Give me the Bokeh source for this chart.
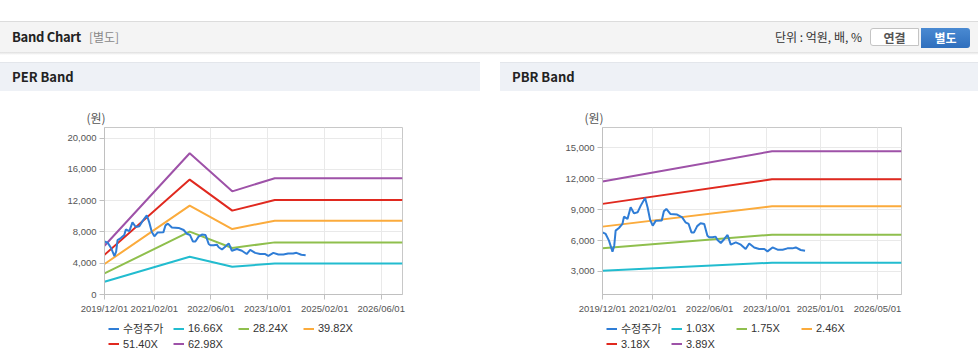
import pandas as pd
from bokeh.plotting import figure
from bokeh.models import (Div, Spacer, Legend, LegendItem, FixedTicker,
                          DatetimeTickFormatter, NumeralTickFormatter, Range1d)
from bokeh.layouts import column, row
from bokeh.embed import file_html
from bokeh.resources import INLINE

# ---------------- data ----------------
price_dates = ["2019-12-01", "2019-12-28", "2020-01-25", "2020-02-24", "2020-03-10", "2020-03-22",
               "2020-04-19", "2020-05-19", "2020-06-01", "2020-07-01", "2020-07-28", "2020-08-25",
               "2020-09-25", "2020-10-22", "2020-11-28", "2020-12-19", "2021-01-10", "2021-02-01",
               "2021-02-28", "2021-04-19", "2021-05-07", "2021-05-28", "2021-07-01", "2021-08-28",
               "2021-10-10", "2021-11-07", "2021-12-04", "2021-12-28", "2022-01-19", "2022-02-15",
               "2022-03-16", "2022-04-16", "2022-05-13", "2022-05-28", "2022-06-25", "2022-07-22",
               "2022-08-07", "2022-09-04", "2022-10-04", "2022-11-01", "2022-11-28", "2023-01-10",
               "2023-02-22", "2023-04-04", "2023-05-04", "2023-06-16", "2023-07-28", "2023-09-10",
               "2023-10-07", "2023-11-19", "2024-01-01", "2024-02-13", "2024-03-25", "2024-05-07",
               "2024-06-04", "2024-07-16", "2024-08-22"]
price = [6790, 6640, 5990, 4920, 5500, 6960,
         7220, 7610, 8320, 8100, 9230, 8640,
         8740, 9390, 10140, 9230, 8000, 7450,
         7930, 7950, 8840, 9070, 8580, 8520,
         8250, 7770, 7610, 6790, 6790, 7400,
         7670, 7610, 6470, 6310, 6310, 6380,
         6050, 5760, 6150, 6540, 5600, 5820,
         5600, 5180, 5720, 5330, 5180, 5180,
         4950, 5330, 5110, 5110, 5240, 5240,
         5330, 5080, 5010]

per_band_dates = ["2019-12-01", "2021-12-01", "2022-12-01", "2023-12-01", "2026-12-01"]
per_1666 = [1630, 4830, 3550, 3970, 3970]
per_2824 = [2700, 8040, 5950, 6670, 6670]
per_3982 = [3900, 11370, 8380, 9450, 9450]
per_5140 = [5080, 14700, 10730, 12100, 12100]
per_6298 = [6240, 18080, 13200, 14870, 14870]
per_labels = ["수정주가", "16.66X", "28.24X", "39.82X", "51.40X", "62.98X"]
per_x_ticks = ["2019-12-01", "2021-02-01", "2022-06-01", "2023-10-01", "2025-02-01", "2026-06-01"]
per_y_ticks = [0, 4000, 8000, 12000, 16000, 20000]

pbr_band_dates = ["2019-12-01", "2023-11-15", "2026-11-22"]
pbr_103 = [3070, 3850, 3850]
pbr_175 = [5240, 6570, 6570]
pbr_246 = [7350, 9320, 9320]
pbr_318 = [9560, 11950, 11950]
pbr_389 = [11730, 14670, 14670]
pbr_labels = ["수정주가", "1.03X", "1.75X", "2.46X", "3.18X", "3.89X"]
pbr_x_ticks = ["2019-12-01", "2021-02-01", "2022-06-01", "2023-10-01", "2025-01-01", "2026-05-01"]
pbr_y_ticks = [3000, 6000, 9000, 12000, 15000]

colors = ["#2f7dd6", "#22bccf", "#8fbf4d", "#fbab3c", "#e0291f", "#9e52a8"]

FONT = "'Liberation Sans', 'Noto Sans CJK KR', sans-serif"
KFONT = "'Noto Sans CJK KR', sans-serif"


def ms(dates):
    return [pd.Timestamp(d).timestamp() * 1000.0 for d in dates]


def make_chart(band_dates, bands, x_ticks, x_start, x_end, y_start, y_end, y_ticks,
               left, fw, right):
    p = figure(output_backend="svg", toolbar_location=None, x_axis_type="datetime",
               frame_width=fw, frame_height=167,
               min_border_left=left, min_border_right=right,
               min_border_top=36, min_border_bottom=22,
               x_range=Range1d(ms([x_start])[0], ms([x_end])[0]),
               y_range=Range1d(y_start, y_end))
    p.margin = (0, 0, 0, 0)
    p.outline_line_color = "#c8c8c8"
    p.background_fill_color = "white"
    p.border_fill_color = "white"
    p.grid.grid_line_color = "#e9e9e9"
    p.xaxis.ticker = FixedTicker(ticks=ms(x_ticks))
    fmt = "%Y/%m/%d"
    p.xaxis.formatter = DatetimeTickFormatter(days=fmt, months=fmt, years=fmt, hours=fmt,
                                              hourmin=fmt, minutes=fmt, minsec=fmt,
                                              seconds=fmt, milliseconds=fmt, microseconds=fmt)
    p.yaxis.ticker = FixedTicker(ticks=y_ticks)
    p.yaxis.formatter = NumeralTickFormatter(format="0,0")
    for ax in (p.xaxis[0], p.yaxis[0]):
        ax.axis_line_color = "#c0c0c0"
        ax.major_tick_line_color = "#c0c0c0"
        ax.minor_tick_line_color = None
        ax.major_tick_in = 0
        ax.major_tick_out = 5
        ax.major_label_standoff = 3
        ax.major_label_text_font = FONT
        ax.major_label_text_font_size = "9.5px"
        ax.major_label_text_color = "#555555"

    bx = ms(band_dates)
    for vals, c in zip(bands, colors[1:]):
        p.line(bx, vals, line_color=c, line_width=2)
    p.line(ms(price_dates), price, line_color=colors[0], line_width=2)

    p.title.text = "(원)"
    p.title.align = "left"
    p.title.offset = -18
    p.title.standoff = 3
    p.title.text_font = KFONT
    p.title.text_font_size = "12px"
    p.title.text_font_style = "normal"
    p.title.text_color = "#555555"
    return p


def make_legend(band_dates, bands, labels, width, legend_x):
    # separate strip holding the legend; its lines reuse the series but lie outside its view
    lf = figure(output_backend="svg", toolbar_location=None, width=width, height=45,
                min_border=0, x_axis_location=None, y_axis_location=None, title=None,
                x_range=Range1d(0, 1), y_range=Range1d(0, 1))
    lf.margin = (0, 0, 0, 0)
    lf.grid.visible = False
    lf.outline_line_color = None
    rs = [lf.line(ms(price_dates), price, line_color=colors[0], line_width=2)]
    for vals, c in zip(bands, colors[1:]):
        rs.append(lf.line(ms(band_dates), vals, line_color=c, line_width=2))
    items = [LegendItem(label=lab, renderers=[r]) for lab, r in zip(labels, rs)]
    legend = Legend(items=items, location=(legend_x, 10), orientation="horizontal", ncols=4,
                    padding=0, margin=0, spacing=0, glyph_width=11, glyph_height=15,
                    label_width=50, label_height=15, label_standoff=4,
                    label_text_font=FONT, label_text_font_size="11px",
                    label_text_color="#333333",
                    border_line_alpha=0, background_fill_alpha=0)
    lf.add_layout(legend, "center")
    return lf


per = make_chart(per_band_dates, [per_1666, per_2824, per_3982, per_5140, per_6298],
                 per_x_ticks, "2019-12-01", "2026-12-01", 0, 21370, per_y_ticks,
                 104, 298, 78)
pbr = make_chart(pbr_band_dates, [pbr_103, pbr_175, pbr_246, pbr_318, pbr_389],
                 pbr_x_ticks, "2019-12-01", "2026-11-22", 760, 16975, pbr_y_ticks,
                 102, 299, 77)
per_leg = make_legend(per_band_dates, [per_1666, per_2824, per_3982, per_5140, per_6298],
                      per_labels, 480, 4)
pbr_leg = make_legend(pbr_band_dates, [pbr_103, pbr_175, pbr_246, pbr_318, pbr_389],
                      pbr_labels, 478, 4)

header_html = """
<div style="position:relative;width:978px;height:62px;font-family:'Noto Sans CJK KR',sans-serif;">
 <div style="position:absolute;left:0;top:21px;width:978px;height:1px;background:#dcdcdc;"></div>
 <div style="position:absolute;left:0;top:22px;width:978px;height:30px;background:#f4f4f4;"></div>
 <div style="position:absolute;left:0;top:52px;width:978px;height:3px;background:linear-gradient(#dedede,#ffffff);"></div>
 <div style="position:absolute;left:12px;top:22px;height:30px;line-height:30px;font-size:13px;font-weight:bold;color:#222;white-space:nowrap;letter-spacing:-0.3px;">Band Chart<span style="font-weight:normal;color:#888;font-size:12px;margin-left:8px;letter-spacing:0;">[별도]</span></div>
 <div style="position:absolute;right:116px;top:22px;height:30px;line-height:30px;font-size:12px;color:#333;white-space:nowrap;">단위 : 억원, 배, %</div>
 <div style="position:absolute;left:870px;top:28px;width:49px;height:18px;border:1px solid #c4c4c4;border-radius:3px 0 0 3px;background:#fff;text-align:center;line-height:18px;font-size:12px;font-weight:bold;color:#555;">연결</div>
 <div style="position:absolute;left:921px;top:28px;width:49px;height:20px;border-radius:0 3px 3px 0;background:linear-gradient(#4a8ad2,#2f6fbd);text-align:center;line-height:20px;font-size:12px;font-weight:bold;color:#fff;">별도</div>
</div>
"""


def title_html(text, w):
    return ("<div style=\"position:relative;width:%dpx;height:29px;background:#eef1f6;"
            "border-top:1px solid #e3e6eb;box-sizing:border-box;font-family:'Noto Sans CJK KR',sans-serif;\">"
            "<div style=\"position:absolute;left:12px;top:0;height:28px;line-height:28px;font-size:13px;"
            "font-weight:bold;color:#222;\">%s</div></div>") % (w, text)


header = Div(text=header_html, width=978, height=62, margin=(0, 0, 0, 0))
per_title = Div(text=title_html("PER Band", 480), width=480, height=29, margin=(0, 0, 0, 0))
pbr_title = Div(text=title_html("PBR Band", 478), width=478, height=29, margin=(0, 0, 0, 0))

layout = column(header,
                row(column(per_title, per, per_leg, spacing=0),
                    Spacer(width=20, height=10, margin=(0, 0, 0, 0)),
                    column(pbr_title, pbr, pbr_leg, spacing=0), spacing=0),
                spacing=0)

with open("out.html", "w") as f:
    f.write(file_html(layout, INLINE))
